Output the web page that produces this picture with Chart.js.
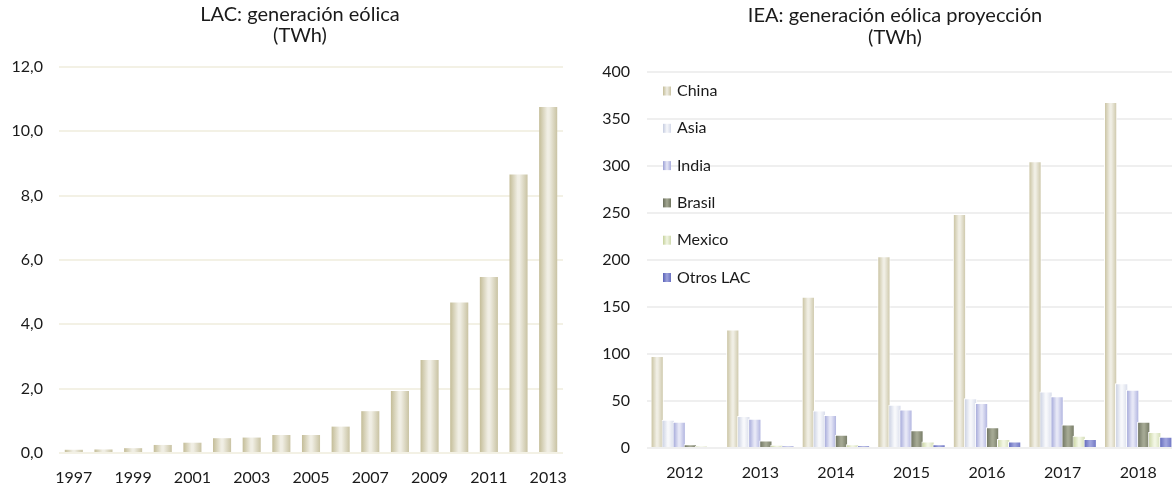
<!DOCTYPE html>
<html lang="es">
<head>
<meta charset="UTF-8">
<title>Generación eólica</title>
<style>
  html, body { margin: 0; padding: 0; background: #fff; overflow: hidden; }
  body { width: 1172px; height: 488px; position: relative; }
  #lac { position: absolute; left: 0; top: 0; }
  #iea { position: absolute; left: 583px; top: 0; }
</style>
</head>
<body>
<canvas id="lac" width="583" height="488"></canvas>
<canvas id="iea" width="600" height="488"></canvas>
<script src="https://cdn.jsdelivr.net/npm/chart.js"></script>
<script>
// LAC: generación eólica (TWh)
const lacYears = ['1997', '1998', '1999', '2000', '2001', '2002', '2003', '2004', '2005',
                  '2006', '2007', '2008', '2009', '2010', '2011', '2012', '2013'];
const lacWind = [0.1, 0.11, 0.15, 0.25, 0.32, 0.46, 0.48, 0.56, 0.56,
                 0.82, 1.3, 1.93, 2.89, 4.68, 5.47, 8.66, 10.76];

// IEA: proyección (TWh)
const ieaYears = ['2012', '2013', '2014', '2015', '2016', '2017', '2018'];
const china    = [98, 126, 161, 204, 249, 305, 368];
const asia     = [30, 34, 40, 46, 53, 60, 69];
const india    = [28, 31, 35, 41, 48, 55, 62];
const brasil   = [4, 8, 14, 19, 22, 25, 28];
const mexico   = [2, 3.5, 4, 7, 9.5, 13, 17];
const otrosLac = [1, 2, 2.5, 4, 7, 9.5, 12];

// gradient colours: left edge, centre, right edge
const tones = {
  china:  ['#c4bd98', '#f0eee4', '#c9c3a3'],
  asia:   ['#c5cce0', '#f7f8fb', '#d3d8e8'],
  india:  ['#9ca1d6', '#e6e7f6', '#a8acdc'],
  brasil: ['#6a6f5c', '#a4a893', '#6f745f'],
  mexico: ['#c6d29c', '#f2f6e4', '#cfd9ae'],
  otros:  ['#5a62b8', '#9ea3dc', '#6970c0']
};

const FONT = 'Lato, "Open Sans", sans-serif';
Chart.defaults.font.family = FONT;
Chart.defaults.color = '#1a1a1a';
Chart.defaults.animation = false;

function barFill(stops) {
  return function (ctx) {
    const chart = ctx.chart;
    const xs = chart.scales.x;
    if (ctx.type !== 'data' || !chart.chartArea || !xs) return stops[1];
    const ds = ctx.dataset;
    const cat = xs.width / chart.data.labels.length;
    const group = cat * ds.categoryPercentage;
    const slot = group / chart.data.datasets.length;
    const cx = xs.getPixelForValue(ctx.dataIndex) - group / 2 + slot * (ctx.datasetIndex + 0.5);
    const w = slot * ds.barPercentage;
    const g = chart.ctx.createLinearGradient(cx - w / 2, 0, cx + w / 2, 0);
    g.addColorStop(0, stops[0]);
    g.addColorStop(0.45, stops[1]);
    g.addColorStop(0.55, stops[1]);
    g.addColorStop(1, stops[2]);
    return g;
  };
}

// two-line title, centred on a given x (the Excel titles are not centred on the canvas)
const titleText = {
  id: 'titleText',
  afterDraw(chart, args, opts) {
    const ctx = chart.ctx;
    ctx.save();
    ctx.font = '20px ' + FONT;
    ctx.fillStyle = '#1a1a1a';
    ctx.textAlign = 'center';
    ctx.textBaseline = 'middle';
    opts.lines.forEach((t, i) => ctx.fillText(t, opts.x, opts.y[i]));
    ctx.restore();
  }
};

// draw series in index order so later ones overlap earlier ones (like Excel)
const forwardOrder = {
  id: 'forwardOrder',
  beforeDatasetsDraw(chart) {
    chart.getSortedVisibleDatasetMetas().forEach(m => m.controller.draw());
    return false;
  }
};

const innerLegend = {
  id: 'innerLegend',
  afterDraw(chart) {
    const {ctx, chartArea} = chart;
    ctx.save();
    ctx.font = '16px ' + FONT;
    ctx.textBaseline = 'middle';
    chart.data.datasets.forEach((ds, i) => {
      const y = chartArea.top + 19 + i * 37.3;
      const x = chartArea.left + 16;
      const g = ctx.createLinearGradient(x, 0, x + 8, 0);
      g.addColorStop(0, ds.tone[0]);
      g.addColorStop(0.5, ds.tone[1]);
      g.addColorStop(1, ds.tone[2]);
      ctx.fillStyle = g;
      ctx.fillRect(x, y - 4.5, 8, 9);
      ctx.fillStyle = '#1a1a1a';
      ctx.fillText(ds.label, chartArea.left + 30, y);
    });
    ctx.restore();
  }
};

new Chart(document.getElementById('lac'), {
  type: 'bar',
  data: {
    labels: lacYears,
    datasets: [{
      label: 'LAC',
      data: lacWind,
      categoryPercentage: 1,
      barPercentage: 0.61,
      backgroundColor: barFill(tones.china)
    }]
  },
  plugins: [titleText],
  options: {
    responsive: false,
    layout: { padding: { left: 0, right: 20, top: 67, bottom: 0 } },
    plugins: {
      legend: { display: false },
      tooltip: { enabled: false },
      titleText: { lines: ['LAC: generación eólica', '(TWh)'], x: 300, y: [15, 36] }
    },
    scales: {
      x: {
        grid: { display: false, drawTicks: false },
        border: { display: false },
        afterFit(axis) { axis.height = 35; },
        ticks: {
          autoSkip: false,
          maxRotation: 0,
          padding: 15,
          font: { size: 16 },
          callback: (v, i) => (i % 2 === 0 ? lacYears[i] : '')
        }
      },
      y: {
        min: 0,
        max: 12,
        afterFit(axis) { axis.width = 59; },
        grid: { color: '#f3f1e5', lineWidth: 2, drawTicks: false },
        border: { display: false },
        ticks: {
          stepSize: 2,
          padding: 16,
          font: { size: 16 },
          callback: v => v.toFixed(1).replace('.', ',')
        }
      }
    }
  }
});

const ieaSeries = [
  ['China', china, tones.china],
  ['Asia', asia, tones.asia],
  ['India', india, tones.india],
  ['Brasil', brasil, tones.brasil],
  ['Mexico', mexico, tones.mexico],
  ['Otros LAC', otrosLac, tones.otros]
];

new Chart(document.getElementById('iea'), {
  type: 'bar',
  data: {
    labels: ieaYears,
    datasets: ieaSeries.map(([name, values, tone]) => ({
      label: name,
      data: values,
      tone: tone,
      categoryPercentage: 0.876,
      barPercentage: 1.2,
      backgroundColor: barFill(tone),
      borderColor: '#ffffff',
      borderWidth: 1
    }))
  },
  plugins: [forwardOrder, innerLegend, titleText],
  options: {
    responsive: false,
    layout: { padding: { left: 0, right: 7, top: 72, bottom: 0 } },
    plugins: {
      legend: { display: false },
      tooltip: { enabled: false },
      titleText: { lines: ['IEA: generación eólica proyección', '(TWh)'], x: 312, y: [16, 38] }
    },
    scales: {
      x: {
        grid: { display: false, drawTicks: false },
        border: { display: false },
        afterFit(axis) { axis.height = 40; },
        ticks: { maxRotation: 0, padding: 15, font: { size: 16 } }
      },
      y: {
        min: 0,
        max: 400,
        afterFit(axis) { axis.width = 64; },
        grid: { color: '#efefef', lineWidth: 2, drawTicks: false },
        border: { display: false },
        ticks: { stepSize: 50, padding: 17, font: { size: 16 } }
      }
    }
  }
});
</script>
</body>
</html>
